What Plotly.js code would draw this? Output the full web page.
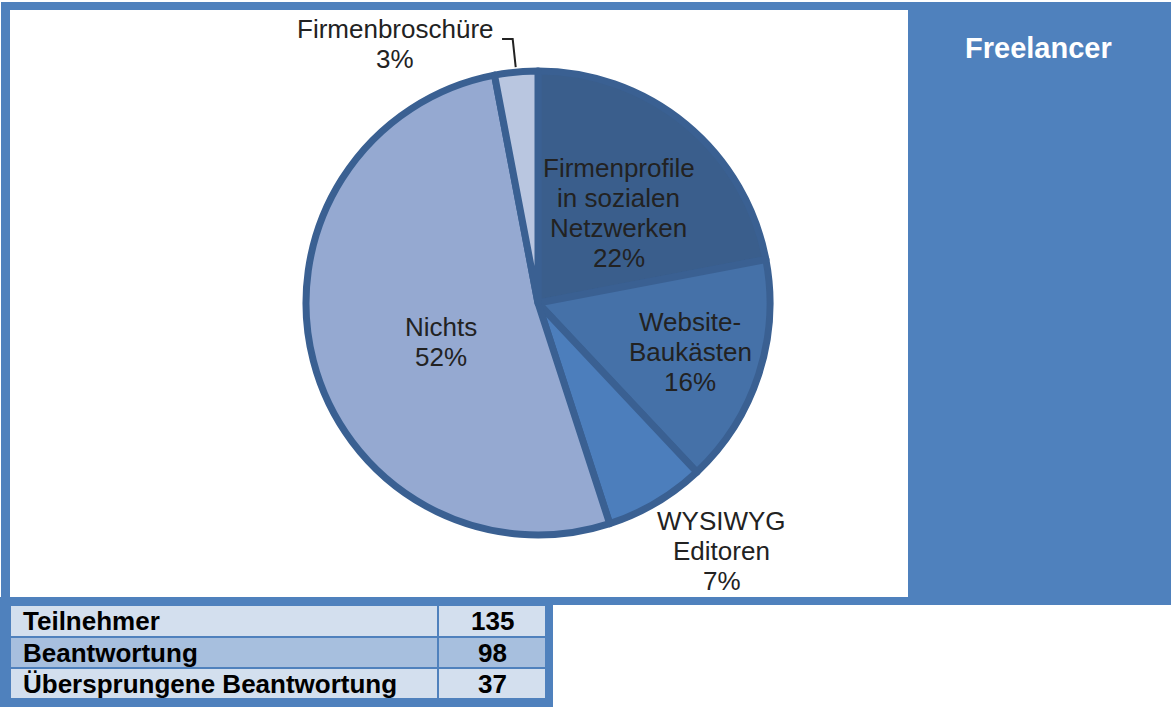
<!DOCTYPE html>
<html>
<head>
<meta charset="utf-8">
<script src="https://cdn.plot.ly/plotly-3.0.1.min.js"></script>
<style>html,body{margin:0;padding:0;background:#fff;}#chart{width:1171px;height:707px;}</style>
</head>
<body>
<div id="chart"></div>
<script>
// ---- data ----
const categories = ['Firmenprofile in sozialen Netzwerken', 'Website-Baukästen', 'WYSIWYG Editoren', 'Nichts', 'Firmenbroschüre'];
const labelLines = [['Firmenprofile', 'in sozialen', 'Netzwerken'], ['Website-', 'Baukästen'], ['WYSIWYG', 'Editoren'], ['Nichts'], ['Firmenbroschüre']];
const values = [22, 16, 7, 52, 3];
const tableLabels = ['Teilnehmer', 'Beantwortung', 'Übersprungene Beantwortung'];
const tableValues = [135, 98, 37];
const panelTitle = 'Freelancer';

// ---- styles / placement ----
const W = 1171, H = 707;
const sliceColors = ['#3A5E8C', '#4571A8', '#4C7EBC', '#95A9D1', '#B9C6E0'];
const frameBlue = '#4F81BD';
const rowFills = ['#D3DFEE', '#A7BFDE', '#D3DFEE'];
const FONT = 'Arial, "Liberation Sans", sans-serif';
const cx = 538, cy = 303, R = 232;
const labelRadius = [0.52, 0.69, 1.33, 0.45, 1.275];
const labelAngleOffset = [2.4, 0, -6, -7.5, -23.5];
const lineGap = 30;

const px = x => x / W;
const py = y => 1 - y / H;

const total = values.reduce((a, b) => a + b, 0);
const annotations = [];
const shapes = [];

// frame
shapes.push({type: 'rect', layer: 'below', xref: 'paper', yref: 'paper', x0: px(1), x1: px(1171), y0: py(2), y1: py(605), fillcolor: frameBlue, line: {width: 0}});
shapes.push({type: 'rect', layer: 'below', xref: 'paper', yref: 'paper', x0: px(0), x1: px(553), y0: py(597), y1: py(707), fillcolor: frameBlue, line: {width: 0}});
shapes.push({type: 'rect', layer: 'below', xref: 'paper', yref: 'paper', x0: px(10), x1: px(908), y0: py(10), y1: py(597), fillcolor: '#FFFFFF', line: {width: 0}});

// pie labels
let cum = 0;
values.forEach((v, i) => {
  const mid = (cum + v / 2) / total * 360;
  cum += v;
  const a = (mid + labelAngleOffset[i]) * Math.PI / 180;
  const r = R * labelRadius[i];
  const lx = cx + r * Math.sin(a);
  const ly = cy - r * Math.cos(a);
  const lines = labelLines[i].concat([Math.round(v / total * 100) + '%']);
  lines.forEach((t, k) => {
    const yy = ly + (k - (lines.length - 1) / 2) * lineGap;
    annotations.push({xref: 'paper', yref: 'paper', x: px(lx), y: py(yy), xanchor: 'center', yanchor: 'middle',
      text: t, showarrow: false, font: {family: FONT, size: 26, color: '#222222'}});
  });
  if (i === 4) {
    const ma = mid * Math.PI / 180;
    const ex = cx + (R + 5) * Math.sin(ma), ey = cy - (R + 5) * Math.cos(ma);
    const hy = ly - (lines.length - 1) / 2 * lineGap + 10;
    const sx = lx + 107;
    shapes.push({type: 'path', layer: 'above', xref: 'paper', yref: 'paper',
      path: `M ${px(sx)} ${py(hy)} L ${px(ex - 3)} ${py(hy)} L ${px(ex)} ${py(ey)}`,
      line: {color: '#222222', width: 2}});
  }
});

// panel title
annotations.push({xref: 'paper', yref: 'paper', x: px(1038), y: py(48), xanchor: 'center', yanchor: 'middle',
  text: '<b>' + panelTitle + '</b>', showarrow: false, font: {family: FONT, size: 29, color: '#FFFFFF'}});

// table
const rowTops = [605, 637, 668, 699];
const colX = [10, 438, 546];
tableLabels.forEach((lab, r) => {
  shapes.push({type: 'rect', layer: 'below', xref: 'paper', yref: 'paper', x0: px(colX[0]), x1: px(colX[2]),
    y0: py(rowTops[r]), y1: py(rowTops[r + 1]), fillcolor: rowFills[r], line: {color: frameBlue, width: 2}});
  const yc = (rowTops[r] + rowTops[r + 1]) / 2;
  annotations.push({xref: 'paper', yref: 'paper', x: px(21), y: py(yc), xanchor: 'left', yanchor: 'middle',
    text: '<b>' + lab + '</b>', showarrow: false, font: {family: FONT, size: 26, color: '#000000'}});
  annotations.push({xref: 'paper', yref: 'paper', x: px((colX[1] + colX[2]) / 2), y: py(yc), xanchor: 'center', yanchor: 'middle',
    text: '<b>' + tableValues[r] + '</b>', showarrow: false, font: {family: FONT, size: 26, color: '#000000'}});
});
shapes.push({type: 'line', layer: 'below', xref: 'paper', yref: 'paper', x0: px(colX[1]), x1: px(colX[1]),
  y0: py(rowTops[0]), y1: py(rowTops[3]), line: {color: frameBlue, width: 2}});

const trace = {
  type: 'pie',
  labels: categories,
  values: values,
  sort: false,
  direction: 'clockwise',
  rotation: 0,
  textinfo: 'none',
  hoverinfo: 'label+percent',
  marker: {colors: sliceColors, line: {color: '#3A6092', width: 7}},
  domain: {x: [px(cx - R), px(cx + R)], y: [py(cy + R), py(cy - R)]},
  showlegend: false
};

Plotly.newPlot('chart', [trace], {
  width: W, height: H,
  margin: {l: 0, r: 0, t: 0, b: 0},
  paper_bgcolor: '#FFFFFF',
  showlegend: false,
  shapes: shapes,
  annotations: annotations
}, {displayModeBar: false, staticPlot: true});
</script>
</body>
</html>
